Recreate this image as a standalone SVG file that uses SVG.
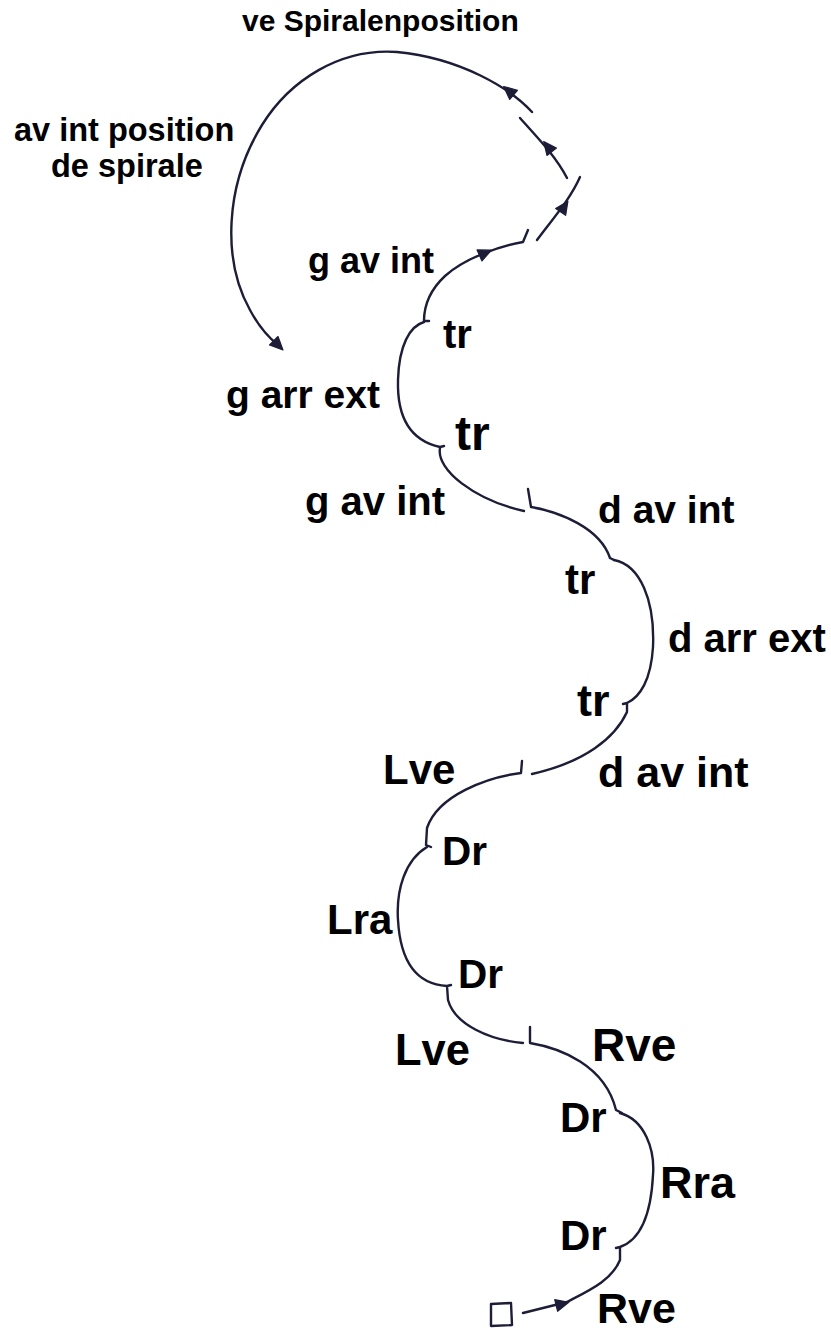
<svg xmlns="http://www.w3.org/2000/svg" xmlns:xlink="http://www.w3.org/1999/xlink" width="831" height="1334" viewBox="0 0 831 1334">
<style>
.ln{fill:none;stroke:#1d1d38;stroke-width:2.4;stroke-linecap:round;stroke-linejoin:round}
.ah{fill:#1d1d38;stroke:#1d1d38;stroke-width:1.2;stroke-linejoin:round}
.t{font-family:"Liberation Sans",Arial,sans-serif;font-weight:bold;fill:#000}
</style>
<defs>
<path id="arr" d="M7,0 L-6,-6 L-6,6 Z"/>
</defs>
<rect width="831" height="1334" fill="#fff"/>
<g id="connectors">
<path class="ln" d="M532,112 C510,88 460,58 397,52 C340,48 290,80 262,125 C225,185 222,260 250,310 C258,325 268,337 278,345"/>
<path class="ln" d="M567,178 C555,155 535,135 520,118"/>
<path class="ln" d="M537,240 C550,222 570,200 580,177"/>
<path class="ln" d="M528,230 L523,242 C500,246 465,258 445,276 C430,290 424,305 424,321 L429,321"/>
<path class="ln" d="M424,322 C410,326 399,345 398,380 C397,415 408,440 440,447 L444,446"/>
<path class="ln" d="M440,448 C436,470 475,500 524,511"/>
<path class="ln" d="M528,489 L531,507 C560,512 600,528 610,558 L614,560"/>
<path class="ln" d="M614,560 C640,565 655,600 653,647 C651,680 640,697 627,703 L623,704 M627,703 L627,712 C615,738 585,762 532,774"/>
<path class="ln" d="M522,761 L521,773 C488,777 438,795 427,828 L426,845 L431,847"/>
<path class="ln" d="M427,847 C405,860 396,890 398,920 C400,955 412,984 447,986 L451,985 M447,986 L448,1000 C455,1025 490,1040 523,1043"/>
<path class="ln" d="M530,1027 L530,1043 C560,1048 605,1065 616,1110 L622,1113"/>
<path class="ln" d="M620,1113 C645,1120 655,1150 653,1175 C651,1215 640,1240 620,1247 L616,1248 M620,1247 L620,1260 C612,1280 590,1290 567,1302 L523,1313"/>
<use xlink:href="#arr" class="ah" transform="translate(509,91) rotate(-140)"/>
<use xlink:href="#arr" class="ah" transform="translate(548,147) rotate(-128)"/>
<use xlink:href="#arr" class="ah" transform="translate(564,207) rotate(-56)"/>
<use xlink:href="#arr" class="ah" transform="translate(485,253) rotate(-24)"/>
<use xlink:href="#arr" class="ah" transform="translate(278,345) rotate(45)"/>
<use xlink:href="#arr" class="ah" transform="translate(562,1304) rotate(-14)"/>
</g>
<g id="start"><path class="ln" d="M491,1304 L511,1303 L512,1325 L491,1326 Z"/></g>
<g id="n1"><text class="t" x="242" y="31" font-size="30">ve Spiralenposition</text></g>
<g id="n2"><text class="t" x="14" y="141" font-size="32.5">av int position</text><text class="t" x="51" y="177" font-size="32.5">de spirale</text></g>
<g id="n3"><text class="t" x="308" y="273" font-size="36">g av int</text></g>
<g id="n4"><text class="t" x="443" y="348" font-size="40">tr</text></g>
<g id="n5"><text class="t" x="226" y="408" font-size="39">g arr ext</text></g>
<g id="n6"><text class="t" x="455" y="450" font-size="48">tr</text></g>
<g id="n7"><text class="t" x="305" y="515" font-size="40">g av int</text></g>
<g id="n8"><text class="t" x="598" y="523" font-size="39">d av int</text></g>
<g id="n9"><text class="t" x="565" y="594" font-size="42">tr</text></g>
<g id="n10"><text class="t" x="668" y="652" font-size="40">d arr ext</text></g>
<g id="n11"><text class="t" x="577" y="716" font-size="45">tr</text></g>
<g id="n12"><text class="t" x="383" y="784" font-size="42">Lve</text></g>
<g id="n13"><text class="t" x="598" y="787" font-size="43">d av int</text></g>
<g id="n14"><text class="t" x="442" y="865" font-size="40.5">Dr</text></g>
<g id="n15"><text class="t" x="327" y="934" font-size="42">Lra</text></g>
<g id="n16"><text class="t" x="458" y="988" font-size="40.5">Dr</text></g>
<g id="n17"><text class="t" x="395" y="1065" font-size="43.5">Lve</text></g>
<g id="n18"><text class="t" x="592" y="1061" font-size="46">Rve</text></g>
<g id="n19"><text class="t" x="560" y="1132" font-size="42">Dr</text></g>
<g id="n20"><text class="t" x="660" y="1198" font-size="45">Rra</text></g>
<g id="n21"><text class="t" x="560" y="1250" font-size="42">Dr</text></g>
<g id="n22"><text class="t" x="597" y="1323" font-size="43">Rve</text></g>
</svg>
